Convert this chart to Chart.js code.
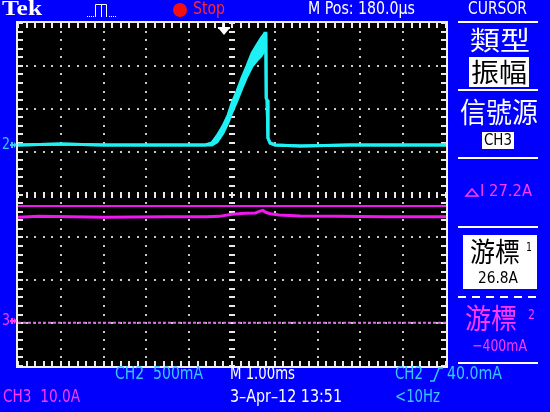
<!DOCTYPE html>
<html>
<head>
<meta charset="utf-8">
<script src="https://cdn.jsdelivr.net/npm/chart.js@4.4.1/dist/chart.umd.min.js"></script>
<style>
  html, body { margin: 0; padding: 0; background: #0000fc; }
  canvas { display: block; }
</style>
</head>
<body>
<canvas id="scope" width="550" height="412" style="width:550px;height:412px"></canvas>
<script>
// time in ms from screen centre (M 1.00ms/div), CH2 in mA, CH3 in A
var timeCh2  = [-5, -4, -3, -2.15, -1.2, -0.63, -0.47, -0.35, -0.21, -0.09, 0, 0.12, 0.23, 0.35, 0.47, 0.58, 0.68, 0.75, 0.77, 0.79, 0.80, 0.82, 0.84, 0.89, 1.0, 1.6, 2.75, 3.9, 5];
var ch2Upper = [0, 12, 0, 0, 0, 0, 23, 105, 221, 349, 488, 628, 779, 919, 1070, 1163, 1244, 1291, 1302, 1302, 547, 523, 81, 23, 0, -12, 0, 0, 0];
var ch2Lower = [0, 12, 0, 0, 0, 0, 0, 35, 140, 267, 384, 523, 663, 802, 919, 988, 1040, 1100, 1163, 1302, 547, 523, 81, 23, 0, -12, 0, 0, 0];

var timeCh3 = [-5, -4.5, -3, -1.5, -0.6, -0.3, 0, 0.3, 0.55, 0.65, 0.72, 0.8, 0.9, 1.1, 1.6, 2.5, 3.5, 5];
var ch3Amps = [24.2, 24.4, 24.2, 24.3, 24.3, 24.4, 24.9, 25.1, 25.2, 25.6, 25.8, 25.3, 25.0, 24.7, 24.5, 24.4, 24.3, 24.3];

var timeSpan = [-5, 5];
var cursor1 = 26.8;   // A
var cursor2 = -0.4;   // A
var triggerPos = -0.18; // ms (M Pos 180.0us)

var BLUE = '#0000fc';
var CYAN = '#1ef0f4';
var CYAN_TXT = '#38c8ff';
var MAGENTA = '#f018f0';
var MAG_TXT = '#ff38ff';

function pts(xs, ys) {
  return xs.map(function (x, i) { return { x: x, y: ys[i] }; });
}

var FONT = "'DejaVu Sans Condensed', 'Liberation Sans Narrow', 'DejaVu Sans', sans-serif";
var CJK = "'Noto Sans CJK TC', 'Noto Sans CJK SC', sans-serif";

// text squeezed to a given width, y is the vertical centre
function txt(ctx, s, x, y, w, size, color, family, weight) {
  ctx.save();
  ctx.font = (weight || '') + ' ' + size + 'px ' + (family || FONT);
  ctx.fillStyle = color;
  ctx.textBaseline = 'middle';
  ctx.textAlign = 'left';
  var m = ctx.measureText(s).width;
  ctx.translate(x, y);
  if (w) ctx.scale(w / m, 1);
  ctx.fillText(s, 0, 0);
  ctx.restore();
}

function hline(ctx, x1, x2, y, color, width, dash) {
  ctx.save();
  ctx.strokeStyle = color;
  ctx.lineWidth = width || 2;
  if (dash) ctx.setLineDash(dash);
  ctx.beginPath();
  ctx.moveTo(x1, y);
  ctx.lineTo(x2, y);
  ctx.stroke();
  ctx.restore();
}

var screenPlugin = {
  id: 'screen',
  beforeDraw: function (chart) {
    var ctx = chart.ctx, a = chart.chartArea;
    var xs = chart.scales.x, ds = chart.scales.div;
    ctx.save();
    ctx.fillStyle = BLUE;
    ctx.fillRect(0, 0, chart.width, chart.height);
    ctx.fillStyle = '#000';
    ctx.fillRect(a.left, a.top, a.right - a.left, a.bottom - a.top);

    // dotted graticule
    ctx.fillStyle = '#c8c8c8';
    var i, j, px, py;
    for (i = -4; i <= 4; i++) {
      if (i === 0) continue;
      px = xs.getPixelForValue(i);
      for (j = -20; j <= 20; j++) {
        py = ds.getPixelForValue(j * 0.2);
        ctx.fillRect(Math.round(px) - 1, Math.round(py) - 1, 2, 2);
      }
    }
    for (i = -3; i <= 3; i++) {
      if (i === 0) continue;
      py = ds.getPixelForValue(i);
      for (j = -25; j <= 25; j++) {
        px = xs.getPixelForValue(j * 0.2);
        ctx.fillRect(Math.round(px) - 1, Math.round(py) - 1, 2, 2);
      }
    }
    // centre cross with minor ticks
    ctx.fillStyle = '#e8e8e8';
    var cx = Math.round(xs.getPixelForValue(0));
    var cy = Math.round(ds.getPixelForValue(0));
    for (j = -20; j <= 20; j++) {
      py = Math.round(ds.getPixelForValue(j * 0.2));
      ctx.fillRect(cx - 3, py - 1, 6, 2);
    }
    for (j = -25; j <= 25; j++) {
      px = Math.round(xs.getPixelForValue(j * 0.2));
      ctx.fillRect(px - 1, cy - 3, 2, 6);
    }
    // border ticks
    for (j = -25; j <= 25; j++) {
      px = Math.round(xs.getPixelForValue(j * 0.2));
      ctx.fillRect(px - 1, a.top, 2, 5);
      ctx.fillRect(px - 1, a.bottom - 5, 2, 5);
    }
    for (j = -20; j <= 20; j++) {
      py = Math.round(ds.getPixelForValue(j * 0.2));
      ctx.fillRect(a.left, py - 1, 5, 2);
      ctx.fillRect(a.right - 5, py - 1, 5, 2);
    }
    ctx.strokeStyle = '#f0f0f0';
    ctx.lineWidth = 2;
    ctx.strokeRect(a.left - 1, a.top - 1, a.right - a.left + 2, a.bottom - a.top + 2);
    ctx.restore();
  },
  afterDraw: function (chart) {
    var ctx = chart.ctx, a = chart.chartArea;
    var xs = chart.scales.x;

    // trigger position arrow
    var tx = Math.round(xs.getPixelForValue(triggerPos));
    ctx.save();
    ctx.fillStyle = '#fff';
    ctx.fillRect(tx - 6, a.top + 4, 12, 2);
    ctx.fillRect(tx - 1, a.top, 2, 6);
    ctx.beginPath();
    ctx.moveTo(tx - 5, a.top + 6);
    ctx.lineTo(tx + 5, a.top + 6);
    ctx.lineTo(tx, a.top + 12);
    ctx.closePath();
    ctx.fill();
    ctx.restore();

    // channel ground markers
    var g2 = chart.scales.ch2.getPixelForValue(0);
    var g3 = chart.scales.ch3.getPixelForValue(0);
    [[g2, '2', CYAN_TXT], [g3, '3', MAG_TXT]].forEach(function (m) {
      txt(ctx, m[1], 2, m[0], 8, 15, m[2]);
      ctx.save();
      ctx.strokeStyle = m[2];
      ctx.fillStyle = m[2];
      ctx.lineWidth = 2;
      ctx.beginPath();
      ctx.moveTo(10, m[0]); ctx.lineTo(15, m[0]);
      ctx.moveTo(12, m[0] - 3); ctx.lineTo(12, m[0] + 3);
      ctx.stroke();
      ctx.beginPath();
      ctx.moveTo(14, m[0] - 3); ctx.lineTo(17, m[0]); ctx.lineTo(14, m[0] + 3);
      ctx.fill();
      ctx.restore();
    });

    // top status bar
    txt(ctx, 'Tek', 2, 10, 40, 21, '#fff', "'Liberation Serif', 'DejaVu Serif', serif", 'bold');
    ctx.save();
    ctx.strokeStyle = '#fff';
    ctx.lineWidth = 1;
    ctx.beginPath();
    ctx.moveTo(95.5, 17); ctx.lineTo(95.5, 4.5); ctx.lineTo(101.5, 4.5); ctx.lineTo(101.5, 17);
    ctx.moveTo(101.5, 4.5); ctx.lineTo(106.5, 4.5); ctx.lineTo(106.5, 17);
    ctx.stroke();
    ctx.fillStyle = '#fff';
    for (var k = 0; k < 4; k++) {
      ctx.fillRect(87 + k * 2, 16, 1, 1);
      ctx.fillRect(109 + k * 2, 16, 1, 1);
    }
    ctx.fillStyle = '#f41010';
    ctx.beginPath();
    ctx.arc(180, 10, 7, 0, Math.PI * 2);
    ctx.fill();
    ctx.restore();
    txt(ctx, 'Stop', 193, 10, 32, 17, '#ff2a2a');
    txt(ctx, 'M Pos: 180.0\u00b5s', 308, 10, 107, 17, '#fff');
    txt(ctx, 'CURSOR', 468, 10, 59, 17, '#fff');

    // bottom status lines
    txt(ctx, 'CH2  500mA', 115, 374, 88, 18, CYAN_TXT);
    txt(ctx, 'M 1.00ms', 230, 374, 65, 18, '#fff');
    txt(ctx, 'CH2', 395, 374, 28, 18, CYAN_TXT);
    ctx.save();
    ctx.strokeStyle = CYAN_TXT;
    ctx.lineWidth = 1.5;
    ctx.beginPath();
    ctx.moveTo(430, 381); ctx.lineTo(434, 381); ctx.lineTo(439, 368); ctx.lineTo(443, 368);
    ctx.stroke();
    ctx.restore();
    txt(ctx, '40.0mA', 447, 374, 55, 18, CYAN_TXT);
    txt(ctx, 'CH3  10.0A', 3, 397, 77, 18, MAG_TXT);
    txt(ctx, '3\u2013Apr\u201312 13:51', 230, 397, 112, 18, '#fff');
    txt(ctx, '<10Hz', 395, 397, 45, 18, CYAN_TXT);

    // cursor menu on the right
    hline(ctx, 458, 538, 22, '#fff', 2);
    txt(ctx, '類型', 470, 40, 60, 26, '#fff', CJK);
    ctx.fillStyle = '#fff';
    ctx.fillRect(469, 57, 60, 30);
    txt(ctx, '振幅', 471, 72, 56, 26, '#000', CJK);
    hline(ctx, 458, 538, 90, '#fff', 2);
    txt(ctx, '信號源', 460, 112, 78, 28, '#fff', CJK);
    ctx.fillStyle = '#fff';
    ctx.fillRect(482, 132, 32, 17);
    txt(ctx, 'CH3', 484, 141, 28, 15, '#000');
    hline(ctx, 458, 538, 158, '#fff', 2);
    ctx.save();
    ctx.strokeStyle = MAG_TXT;
    ctx.lineWidth = 1.5;
    ctx.beginPath();
    ctx.moveTo(466, 196); ctx.lineTo(472, 189); ctx.lineTo(478, 196); ctx.closePath();
    ctx.stroke();
    ctx.restore();
    txt(ctx, 'I 27.2A', 480, 192, 52, 16, MAG_TXT);
    hline(ctx, 458, 538, 227, '#fff', 2);
    ctx.fillStyle = '#fff';
    ctx.fillRect(463, 235, 74, 54);
    txt(ctx, '游標', 470, 252, 50, 27, '#000', CJK);
    txt(ctx, '1', 526, 248, 6, 13, '#000');
    txt(ctx, '26.8A', 478, 279, 40, 16, '#000');
    hline(ctx, 458, 538, 297, '#fff', 2, [8, 6]);
    txt(ctx, '游標', 465, 318, 52, 28, MAG_TXT, CJK);
    txt(ctx, '2', 528, 315, 7, 14, MAG_TXT);
    txt(ctx, '\u2212400mA', 472, 347, 55, 16, MAG_TXT);
    hline(ctx, 458, 538, 363, '#fff', 2);
  }
};

new Chart(document.getElementById('scope'), {
  type: 'line',
  data: {
    datasets: [{
      data: pts(timeCh2, ch2Upper),
      yAxisID: 'ch2',
      borderColor: CYAN,
      backgroundColor: CYAN,
      borderWidth: 3,
      fill: '+1'
    },
    {
      data: pts(timeCh2, ch2Lower),
      yAxisID: 'ch2',
      borderColor: CYAN,
      borderWidth: 3,
      fill: false
    },
    {
      data: pts(timeCh3, ch3Amps),
      yAxisID: 'ch3',
      borderColor: MAGENTA,
      borderWidth: 3,
      fill: false
    },
    {
      data: pts(timeSpan, [cursor1, cursor1]),
      yAxisID: 'ch3',
      borderColor: MAGENTA,
      borderWidth: 2,
      fill: false
    },
    {
      data: pts(timeSpan, [cursor2, cursor2]),
      yAxisID: 'ch3',
      borderColor: '#d070d8',
      borderDash: [3, 2],
      borderWidth: 2,
      fill: false
    }]
  },
  options: {
    responsive: false,
    devicePixelRatio: 1,
    animation: false,
    events: [],
    elements: { point: { radius: 0 }, line: { tension: 0 } },
    layout: { padding: { left: 18, right: 104, top: 23, bottom: 46 } },
    plugins: { legend: { display: false }, tooltip: { enabled: false } },
    scales: {
      x: { type: 'linear', min: -5, max: 5, display: false },
      div: { type: 'linear', axis: 'y', min: -4, max: 4, display: false },
      // CH2 ground sits 1.155 div above centre, 500 mA/div
      ch2: { type: 'linear', axis: 'y', min: -2577.5, max: 1422.5, display: false },
      // CH3 ground sits 2.95 div below centre, 10 A/div
      ch3: { type: 'linear', axis: 'y', min: -10.5, max: 69.5, display: false }
    }
  },
  plugins: [screenPlugin]
});
</script>
</body>
</html>
